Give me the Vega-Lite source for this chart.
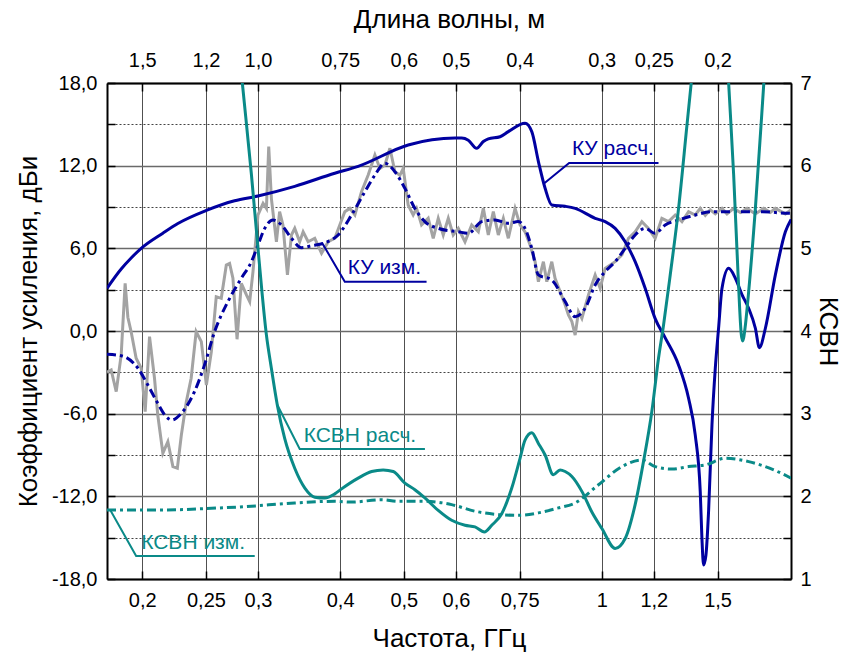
{
  "$schema": "https://vega.github.io/schema/vega-lite/v6.json",
  "width": 684,
  "height": 496,
  "autosize": {"type": "none"},
  "padding": {"left": 107, "top": 83, "right": 55, "bottom": 73},
  "background": "white",
  "config": {
    "font": "Liberation Sans",
    "view": {"stroke": null},
    "axis": {"labelFont": "Liberation Sans", "titleFont": "Liberation Sans", "labelColor": "#000", "titleColor": "#000", "titleFontWeight": "normal", "labelFlush": false, "labelOverlap": false, "domainColor": "#000", "domainWidth": 2, "tickColor": "#000", "tickWidth": 1.5, "tickSize": -8, "labelFontSize": 20, "titleFontSize": 26}
  },
  "data": {"values": [
    {"s":"kc","f":0.1768,"v":3.1},{"s":"kc","f":0.1858,"v":4.5},{"s":"kc","f":0.1924,"v":5.3},{"s":"kc","f":0.1993,"v":6.0},{"s":"kc","f":0.2150,"v":7.1},{"s":"kc","f":0.2266,"v":7.8},{"s":"kc","f":0.2504,"v":8.75},{"s":"kc","f":0.2764,"v":9.45},{"s":"kc","f":0.3000,"v":9.8},{"s":"kc","f":0.3412,"v":10.5},{"s":"kc","f":0.3926,"v":11.45},{"s":"kc","f":0.4261,"v":11.95},{"s":"kc","f":0.5076,"v":13.5},{"s":"kc","f":0.5980,"v":14.0},{"s":"kc","f":0.6122,"v":14.0},{"s":"kc","f":0.6266,"v":13.85},{"s":"kc","f":0.6453,"v":13.26},{"s":"kc","f":0.6605,"v":13.75},{"s":"kc","f":0.6721,"v":13.95},{"s":"kc","f":0.7003,"v":14.1},{"s":"kc","f":0.7209,"v":14.47},{"s":"kc","f":0.7643,"v":15.07},{"s":"kc","f":0.7826,"v":14.47},{"s":"kc","f":0.8010,"v":12.3},{"s":"kc","f":0.8200,"v":10.36},{"s":"kc","f":0.8394,"v":9.15},{"s":"kc","f":0.8797,"v":9.05},{"s":"kc","f":0.9110,"v":8.9},{"s":"kc","f":0.9771,"v":8.18},{"s":"kc","f":1.0118,"v":7.94},{"s":"kc","f":1.0480,"v":7.45},{"s":"kc","f":1.0854,"v":6.48},{"s":"kc","f":1.1240,"v":5.03},{"s":"kc","f":1.1641,"v":3.1},{"s":"kc","f":1.2056,"v":0.9},{"s":"kc","f":1.2488,"v":-0.5},{"s":"kc","f":1.3084,"v":-2.46},{"s":"kc","f":1.3552,"v":-4.88},{"s":"kc","f":1.3872,"v":-7.54},{"s":"kc","f":1.4118,"v":-11.66},{"s":"kc","f":1.4200,"v":-15.0},{"s":"kc","f":1.4284,"v":-16.98},{"s":"kc","f":1.4400,"v":-16.3},{"s":"kc","f":1.4536,"v":-13.1},{"s":"kc","f":1.4710,"v":-6.8},{"s":"kc","f":1.4882,"v":-2.7},{"s":"kc","f":1.5054,"v":0.2},{"s":"kc","f":1.5236,"v":3.1},{"s":"kc","f":1.5594,"v":4.55},{"s":"kc","f":1.5966,"v":3.83},{"s":"kc","f":1.6346,"v":2.62},{"s":"kc","f":1.6726,"v":1.65},{"s":"kc","f":1.7124,"v":0.2},{"s":"kc","f":1.7366,"v":-1.21},{"s":"kc","f":1.7736,"v":0.2},{"s":"kc","f":1.8366,"v":4.07},{"s":"kc","f":1.9022,"v":7.2},{"s":"kc","f":1.9406,"v":8.1},

    {"s":"km","f":0.1768,"v":-1.69},{"s":"km","f":0.1858,"v":-1.79},{"s":"km","f":0.1970,"v":-2.7},{"s":"km","f":0.2040,"v":-3.92},{"s":"km","f":0.2112,"v":-5.25},{"s":"km","f":0.2176,"v":-6.22},{"s":"km","f":0.2220,"v":-6.46},{"s":"km","f":0.2294,"v":-5.97},{"s":"km","f":0.2402,"v":-4.4},{"s":"km","f":0.2488,"v":-2.46},{"s":"km","f":0.2577,"v":-0.05},{"s":"km","f":0.2700,"v":2.13},{"s":"km","f":0.2830,"v":3.83},{"s":"km","f":0.2932,"v":5.03},{"s":"km","f":0.3000,"v":6.24},{"s":"km","f":0.3072,"v":7.45},{"s":"km","f":0.3162,"v":8.06},{"s":"km","f":0.3256,"v":7.7},{"s":"km","f":0.3373,"v":6.73},{"s":"km","f":0.3494,"v":6.05},{"s":"km","f":0.3619,"v":6.19},{"s":"km","f":0.3792,"v":6.4},{"s":"km","f":0.3972,"v":6.97},{"s":"km","f":0.4163,"v":8.42},{"s":"km","f":0.4362,"v":10.11},{"s":"km","f":0.4518,"v":11.32},{"s":"km","f":0.4679,"v":12.17},{"s":"km","f":0.4846,"v":11.56},{"s":"km","f":0.5018,"v":10.36},{"s":"km","f":0.5197,"v":8.9},{"s":"km","f":0.5382,"v":7.94},{"s":"km","f":0.5640,"v":7.45},{"s":"km","f":0.6050,"v":7.2},{"s":"km","f":0.6266,"v":7.09},{"s":"km","f":0.6568,"v":7.94},{"s":"km","f":0.6880,"v":8.06},{"s":"km","f":0.7209,"v":7.82},{"s":"km","f":0.7466,"v":7.94},{"s":"km","f":0.7643,"v":7.45},{"s":"km","f":0.7826,"v":6.0},{"s":"km","f":0.8010,"v":4.07},{"s":"km","f":0.8394,"v":3.7},{"s":"km","f":0.8797,"v":2.13},{"s":"km","f":0.9110,"v":1.04},{"s":"km","f":0.9434,"v":1.65},{"s":"km","f":0.9771,"v":3.34},{"s":"km","f":1.0118,"v":4.31},{"s":"km","f":1.0480,"v":5.03},{"s":"km","f":1.0854,"v":6.0},{"s":"km","f":1.1240,"v":6.97},{"s":"km","f":1.1641,"v":7.45},{"s":"km","f":1.2056,"v":7.09},{"s":"km","f":1.2488,"v":7.7},{"s":"km","f":1.3084,"v":8.06},{"s":"km","f":1.3872,"v":8.42},{"s":"km","f":1.4710,"v":8.66},{"s":"km","f":1.5966,"v":8.66},{"s":"km","f":1.7532,"v":8.66},{"s":"km","f":1.9246,"v":8.54},{"s":"km","f":1.9406,"v":8.54},

    {"s":"kr","f":0.1768,"v":-3.0},{"s":"kr","f":0.1794,"v":-2.83},{"s":"kr","f":0.1826,"v":-4.4},{"s":"kr","f":0.1858,"v":-1.74},{"s":"kr","f":0.1884,"v":3.46},{"s":"kr","f":0.1902,"v":1.0},{"s":"kr","f":0.1924,"v":-0.05},{"s":"kr","f":0.1958,"v":-1.98},{"s":"kr","f":0.1993,"v":-2.7},{"s":"kr","f":0.2021,"v":-5.85},{"s":"kr","f":0.2052,"v":-0.41},{"s":"kr","f":0.2088,"v":-3.43},{"s":"kr","f":0.2112,"v":-6.1},{"s":"kr","f":0.2150,"v":-8.87},{"s":"kr","f":0.2188,"v":-8.03},{"s":"kr","f":0.2227,"v":-9.84},{"s":"kr","f":0.2262,"v":-9.96},{"s":"kr","f":0.2294,"v":-7.54},{"s":"kr","f":0.2334,"v":-5.13},{"s":"kr","f":0.2374,"v":-3.43},{"s":"kr","f":0.2416,"v":-0.05},{"s":"kr","f":0.2460,"v":-0.77},{"s":"kr","f":0.2504,"v":-3.92},{"s":"kr","f":0.2548,"v":-1.5},{"s":"kr","f":0.2592,"v":2.49},{"s":"kr","f":0.2638,"v":2.37},{"s":"kr","f":0.2685,"v":4.79},{"s":"kr","f":0.2716,"v":4.91},{"s":"kr","f":0.2748,"v":3.83},{"s":"kr","f":0.2788,"v":-0.6},{"s":"kr","f":0.2830,"v":3.46},{"s":"kr","f":0.2881,"v":2.62},{"s":"kr","f":0.2914,"v":2.13},{"s":"kr","f":0.2948,"v":4.31},{"s":"kr","f":0.3000,"v":8.42},{"s":"kr","f":0.3054,"v":9.27},{"s":"kr","f":0.3090,"v":8.9},{"s":"kr","f":0.3115,"v":13.38},{"s":"kr","f":0.3144,"v":9.63},{"s":"kr","f":0.3200,"v":6.48},{"s":"kr","f":0.3236,"v":8.66},{"s":"kr","f":0.3274,"v":7.7},{"s":"kr","f":0.3326,"v":4.07},{"s":"kr","f":0.3373,"v":6.97},{"s":"kr","f":0.3412,"v":7.45},{"s":"kr","f":0.3472,"v":6.48},{"s":"kr","f":0.3514,"v":7.2},{"s":"kr","f":0.3576,"v":6.48},{"s":"kr","f":0.3660,"v":6.73},{"s":"kr","f":0.3748,"v":5.64},{"s":"kr","f":0.3837,"v":6.48},{"s":"kr","f":0.3926,"v":6.73},{"s":"kr","f":0.4066,"v":8.66},{"s":"kr","f":0.4138,"v":8.9},{"s":"kr","f":0.4212,"v":8.42},{"s":"kr","f":0.4311,"v":10.11},{"s":"kr","f":0.4413,"v":11.32},{"s":"kr","f":0.4518,"v":12.78},{"s":"kr","f":0.4598,"v":11.8},{"s":"kr","f":0.4679,"v":12.05},{"s":"kr","f":0.4762,"v":13.26},{"s":"kr","f":0.4846,"v":11.56},{"s":"kr","f":0.4931,"v":11.3},{"s":"kr","f":0.4989,"v":11.8},{"s":"kr","f":0.5076,"v":9.15},{"s":"kr","f":0.5166,"v":8.42},{"s":"kr","f":0.5228,"v":8.9},{"s":"kr","f":0.5320,"v":7.7},{"s":"kr","f":0.5445,"v":8.18},{"s":"kr","f":0.5542,"v":6.73},{"s":"kr","f":0.5640,"v":8.18},{"s":"kr","f":0.5740,"v":6.97},{"s":"kr","f":0.5842,"v":8.18},{"s":"kr","f":0.5944,"v":6.97},{"s":"kr","f":0.6050,"v":7.45},{"s":"kr","f":0.6194,"v":6.48},{"s":"kr","f":0.6341,"v":7.7},{"s":"kr","f":0.6490,"v":7.2},{"s":"kr","f":0.6605,"v":8.9},{"s":"kr","f":0.6721,"v":6.97},{"s":"kr","f":0.6840,"v":8.66},{"s":"kr","f":0.6961,"v":6.97},{"s":"kr","f":0.7084,"v":8.18},{"s":"kr","f":0.7209,"v":6.73},{"s":"kr","f":0.7381,"v":8.9},{"s":"kr","f":0.7511,"v":7.7},{"s":"kr","f":0.7643,"v":7.2},{"s":"kr","f":0.7780,"v":6.24},{"s":"kr","f":0.7917,"v":5.03},{"s":"kr","f":0.8010,"v":3.58},{"s":"kr","f":0.8151,"v":5.03},{"s":"kr","f":0.8249,"v":3.58},{"s":"kr","f":0.8394,"v":5.03},{"s":"kr","f":0.8491,"v":3.83},{"s":"kr","f":0.8642,"v":2.86},{"s":"kr","f":0.8797,"v":1.89},{"s":"kr","f":0.8898,"v":1.16},{"s":"kr","f":0.9006,"v":0.68},{"s":"kr","f":0.9110,"v":-0.3},{"s":"kr","f":0.9216,"v":1.41},{"s":"kr","f":0.9327,"v":0.92},{"s":"kr","f":0.9544,"v":2.62},{"s":"kr","f":0.9771,"v":4.07},{"s":"kr","f":0.9944,"v":3.1},{"s":"kr","f":1.0118,"v":4.55},{"s":"kr","f":1.0480,"v":5.03},{"s":"kr","f":1.0730,"v":5.52},{"s":"kr","f":1.0981,"v":6.73},{"s":"kr","f":1.1240,"v":7.2},{"s":"kr","f":1.1508,"v":7.94},{"s":"kr","f":1.1776,"v":7.45},{"s":"kr","f":1.2056,"v":6.73},{"s":"kr","f":1.2342,"v":8.18},{"s":"kr","f":1.2634,"v":7.94},{"s":"kr","f":1.2934,"v":8.42},{"s":"kr","f":1.3242,"v":7.94},{"s":"kr","f":1.3552,"v":8.66},{"s":"kr","f":1.3872,"v":8.42},{"s":"kr","f":1.4118,"v":8.9},{"s":"kr","f":1.4370,"v":8.4},{"s":"kr","f":1.4622,"v":8.8},{"s":"kr","f":1.4882,"v":8.5},{"s":"kr","f":1.5236,"v":8.9},{"s":"kr","f":1.5504,"v":8.5},{"s":"kr","f":1.5870,"v":8.9},{"s":"kr","f":1.6248,"v":8.6},{"s":"kr","f":1.6634,"v":8.9},{"s":"kr","f":1.7124,"v":8.5},{"s":"kr","f":1.7632,"v":8.9},{"s":"kr","f":1.8050,"v":8.6},{"s":"kr","f":1.8366,"v":8.9},{"s":"kr","f":1.9022,"v":8.5},{"s":"kr","f":1.9406,"v":8.8},

    {"s":"vc","f":0.2796,"v":7.55},{"s":"vc","f":0.2840,"v":7.0},{"s":"vc","f":0.2932,"v":5.89},{"s":"vc","f":0.3000,"v":5.0},{"s":"vc","f":0.3090,"v":3.95},{"s":"vc","f":0.3144,"v":3.55},{"s":"vc","f":0.3211,"v":3.1},{"s":"vc","f":0.3294,"v":2.7},{"s":"vc","f":0.3412,"v":2.34},{"s":"vc","f":0.3535,"v":2.1},{"s":"vc","f":0.3660,"v":1.99},{"s":"vc","f":0.3792,"v":1.98},{"s":"vc","f":0.3926,"v":2.03},{"s":"vc","f":0.4020,"v":2.09},{"s":"vc","f":0.4261,"v":2.22},{"s":"vc","f":0.4466,"v":2.3},{"s":"vc","f":0.4651,"v":2.32},{"s":"vc","f":0.4817,"v":2.3},{"s":"vc","f":0.5018,"v":2.16},{"s":"vc","f":0.5197,"v":2.08},{"s":"vc","f":0.5382,"v":1.98},{"s":"vc","f":0.5640,"v":1.83},{"s":"vc","f":0.5911,"v":1.71},{"s":"vc","f":0.6194,"v":1.65},{"s":"vc","f":0.6414,"v":1.63},{"s":"vc","f":0.6629,"v":1.57},{"s":"vc","f":0.6802,"v":1.65},{"s":"vc","f":0.7044,"v":1.79},{"s":"vc","f":0.7296,"v":2.1},{"s":"vc","f":0.7511,"v":2.46},{"s":"vc","f":0.7643,"v":2.68},{"s":"vc","f":0.7826,"v":2.77},{"s":"vc","f":0.8010,"v":2.64},{"s":"vc","f":0.8200,"v":2.5},{"s":"vc","f":0.8441,"v":2.26},{"s":"vc","f":0.8642,"v":2.32},{"s":"vc","f":0.8797,"v":2.3},{"s":"vc","f":0.9006,"v":2.24},{"s":"vc","f":0.9327,"v":2.06},{"s":"vc","f":0.9659,"v":1.81},{"s":"vc","f":1.0004,"v":1.61},{"s":"vc","f":1.0480,"v":1.37},{"s":"vc","f":1.0854,"v":1.49},{"s":"vc","f":1.1240,"v":1.9},{"s":"vc","f":1.1573,"v":2.42},{"s":"vc","f":1.1918,"v":3.03},{"s":"vc","f":1.2198,"v":3.67},{"s":"vc","f":1.2414,"v":4.07},{"s":"vc","f":1.2710,"v":4.68},{"s":"vc","f":1.3084,"v":5.48},{"s":"vc","f":1.3476,"v":6.49},{"s":"vc","f":1.3678,"v":7.0},{"s":"vc","f":1.4118,"v":8.1},{"s":"vc","f":1.4536,"v":8.9},{"s":"vc","f":1.4882,"v":9.3},{"s":"vc","f":1.5236,"v":8.5},{"s":"vc","f":1.5594,"v":7.0},{"s":"vc","f":1.5870,"v":5.89},{"s":"vc","f":1.6118,"v":4.68},{"s":"vc","f":1.6304,"v":3.95},{"s":"vc","f":1.6380,"v":3.88},{"s":"vc","f":1.6536,"v":4.07},{"s":"vc","f":1.6634,"v":4.27},{"s":"vc","f":1.7124,"v":5.48},{"s":"vc","f":1.7632,"v":6.98},{"s":"vc","f":1.8050,"v":8.2},

    {"s":"vm","f":0.1768,"v":1.835},{"s":"vm","f":0.2138,"v":1.835},{"s":"vm","f":0.2548,"v":1.855},{"s":"vm","f":0.2863,"v":1.875},{"s":"vm","f":0.3412,"v":1.92},{"s":"vm","f":0.3926,"v":1.94},{"s":"vm","f":0.4163,"v":1.93},{"s":"vm","f":0.4625,"v":1.96},{"s":"vm","f":0.4897,"v":1.94},{"s":"vm","f":0.5382,"v":1.94},{"s":"vm","f":0.5911,"v":1.9},{"s":"vm","f":0.6414,"v":1.82},{"s":"vm","f":0.6961,"v":1.78},{"s":"vm","f":0.7466,"v":1.77},{"s":"vm","f":0.8010,"v":1.8},{"s":"vm","f":0.8591,"v":1.86},{"s":"vm","f":0.9110,"v":1.92},{"s":"vm","f":0.9886,"v":2.14},{"s":"vm","f":1.0730,"v":2.36},{"s":"vm","f":1.1508,"v":2.44},{"s":"vm","f":1.2056,"v":2.36},{"s":"vm","f":1.2786,"v":2.33},{"s":"vm","f":1.3552,"v":2.36},{"s":"vm","f":1.4370,"v":2.38},{"s":"vm","f":1.5412,"v":2.46},{"s":"vm","f":1.6726,"v":2.42},{"s":"vm","f":1.8260,"v":2.32},{"s":"vm","f":1.9406,"v":2.22},

    {"s":"l1","f":0.8151,"v":10.67},{"s":"l1","f":0.892,"v":12.19},{"s":"l1","f":1.2198,"v":12.19},
    {"s":"l2","f":0.3752,"v":6.43},{"s":"l2","f":0.4066,"v":3.58},{"s":"l2","f":0.5414,"v":3.58},
    {"s":"l3","f":0.3211,"v":3.105},{"s":"l3","f":0.3472,"v":2.573},{"s":"l3","f":0.5383,"v":2.573},
    {"s":"l4","f":0.179,"v":1.829},{"s":"l4","f":0.1958,"v":1.278},{"s":"l4","f":0.2966,"v":1.278},

    {"s":"tk","f":0.9006,"v":12.78,"t":"КУ расч."},
    {"s":"tk","f":0.4108,"v":4.14,"t":"КУ изм."},
    {"s":"tv","f":0.352,"v":2.657,"t":"КСВН расч."},
    {"s":"tv","f":0.1993,"v":1.363,"t":"КСВН изм."}
  ]},
  "layer": [
    {
      "encoding": {
        "x": {"field": "f", "type": "quantitative",
          "scale": {"type": "log", "domain": [0.1768, 1.94], "nice": false},
          "axis": {"orient": "bottom", "values": [0.2, 0.25, 0.3, 0.4, 0.5, 0.6, 0.75, 1, 1.2, 1.5],
            "labelExpr": "replace(format(datum.value, '~g'), '.', ',')",
            "title": "Частота, ГГц", "grid": true, "gridColor": "#505050", "gridWidth": 1,
            "labelPadding": 19, "titlePadding": 15}},
        "y": {"field": "v", "type": "quantitative",
          "scale": {"domain": [-18, 18], "nice": false, "zero": false},
          "axis": {"orient": "left", "values": [-18, -15, -12, -9, -6, -3, 0, 3, 6, 9, 12, 15, 18],
            "labelExpr": "datum.value % 6 == 0 ? replace(replace(format(datum.value, '.1f'), '.', ','), '\u2212', '-') : ''",
            "title": "Коэффициент усиления, дБи",
            "grid": true,
            "gridColor": {"condition": {"test": "datum.value % 6 == 0", "value": "#6a6a6a"}, "value": "#444444"},
            "gridDash": {"condition": {"test": "datum.value % 6 == 0", "value": []}, "value": [2, 2]},
            "gridWidth": {"condition": {"test": "datum.value % 6 == 0", "value": 1.5}, "value": 1},
            "labelPadding": 18, "titlePadding": 10}}
      },
      "layer": [
        {"transform": [{"filter": "datum.s == 'kr'"}], "mark": {"type": "line", "color": "#a3a3a3", "strokeWidth": 3, "clip": true}},
        {"transform": [{"filter": "datum.s == 'kc'"}], "mark": {"type": "line", "color": "#0000a0", "strokeWidth": 3, "interpolate": "monotone", "clip": true}},
        {"transform": [{"filter": "datum.s == 'km'"}], "mark": {"type": "line", "color": "#0000a0", "strokeWidth": 3, "interpolate": "monotone", "strokeDash": [9, 4, 3, 4], "clip": true}},
        {"transform": [{"filter": "datum.s == 'l1' || datum.s == 'l2'"}], "mark": {"type": "line", "color": "#0000a0", "strokeWidth": 2}, "encoding": {"detail": {"field": "s"}}},
        {"transform": [{"filter": "datum.s == 'tk'"}], "mark": {"type": "text", "align": "left", "baseline": "alphabetic", "fontSize": 21, "font": "Liberation Sans", "color": "#0000a0"}, "encoding": {"text": {"field": "t"}}}
      ]
    },
    {
      "encoding": {
        "x": {"field": "f", "type": "quantitative",
          "scale": {"type": "log", "domain": [0.1768, 1.94], "nice": false},
          "axis": {"orient": "top", "values": [0.2, 0.25, 0.3, 0.4, 0.5, 0.6, 0.75, 1, 1.2, 1.5],
            "labelExpr": "datum.value == 0.3 ? '1,0' : replace(format(0.3 / datum.value, '.2~f'), '.', ',')",
            "title": "Длина волны, м", "grid": false,
            "labelPadding": 21, "titlePadding": 18}},
        "y": {"field": "v", "type": "quantitative",
          "scale": {"domain": [1, 7], "nice": false, "zero": false},
          "axis": {"orient": "right", "values": [1, 1.5, 2, 2.5, 3, 3.5, 4, 4.5, 5, 5.5, 6, 6.5, 7],
            "labelExpr": "datum.value % 1 == 0 ? format(datum.value, 'd') : ''",
            "title": "КСВН", "grid": false,
            "labelPadding": 17, "titlePadding": 3}}
      },
      "layer": [
        {"transform": [{"filter": "datum.s == 'vc'"}], "mark": {"type": "line", "color": "#0a8a88", "strokeWidth": 3, "interpolate": "monotone", "clip": true}},
        {"transform": [{"filter": "datum.s == 'vm'"}], "mark": {"type": "line", "color": "#0a8a88", "strokeWidth": 3, "interpolate": "monotone", "strokeDash": [9, 4, 3, 4], "clip": true}},
        {"transform": [{"filter": "datum.s == 'l3' || datum.s == 'l4'"}], "mark": {"type": "line", "color": "#0a8a88", "strokeWidth": 2}, "encoding": {"detail": {"field": "s"}}},
        {"transform": [{"filter": "datum.s == 'tv'"}], "mark": {"type": "text", "align": "left", "baseline": "alphabetic", "fontSize": 21, "font": "Liberation Sans", "color": "#0a8a88"}, "encoding": {"text": {"field": "t"}}}
      ]
    }
  ],
  "resolve": {"scale": {"y": "independent"}, "axis": {"x": "independent"}}
}
